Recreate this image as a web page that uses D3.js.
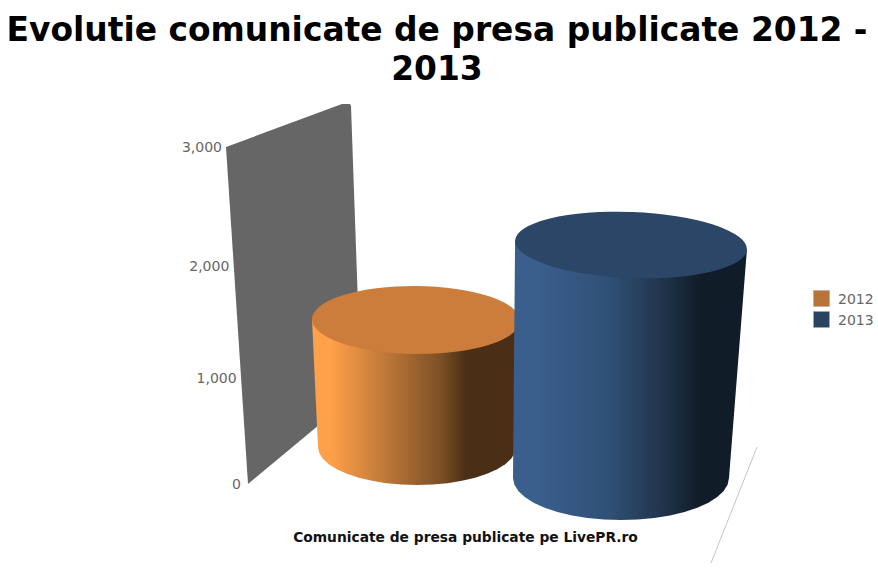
<!DOCTYPE html>
<meta charset="utf-8">
<title>Evolutie comunicate de presa</title>
<style>
body {
  margin: 0;
  background: #fff;
}
svg {
  display: block;
}
text {
  font-family: "DejaVu Sans", Verdana, sans-serif;
}
</style>
<body>
<script src="https://cdnjs.cloudflare.com/ajax/libs/d3/7.8.5/d3.min.js"></script>
<script>
var titleLines = ["Evolutie comunicate de presa publicate 2012 -", "2013"];
var xTitle = "Comunicate de presa publicate pe LivePR.ro";
var years = ["2012", "2013"];
var values = [1150, 1950];
var tickValues = [0, 1000, 2000, 3000];
var topColors = ["#cc7d3c", "#2c4668"];
var legendColors = ["#b97437", "#2a4361"];

var w = 878,
    h = 581;

// the axis spacing is uneven because of the perspective
var wallY = d3.scaleLinear().domain(tickValues).range([484, 378, 266, 147]);
var wallX = d3.scaleLinear().domain([0, 3000]).range([248, 226]);
var backY = d3.scaleLinear().domain([0, 3000]).range([390, 104]);
var backX = d3.scaleLinear().domain([0, 3000]).range([361, 350]);

// ellipse of each cylinder at value 0 and at the value of its top
var cx = d3.scaleOrdinal(years, [
  d3.scaleLinear().domain([0, 1150]).range([417, 416]),
  d3.scaleLinear().domain([0, 1950]).range([621, 631])
]);
var cy = d3.scaleOrdinal(years, [
  d3.scaleLinear().domain([0, 1150]).range([447, 320]),
  d3.scaleLinear().domain([0, 1950]).range([478, 245])
]);
var rx = d3.scaleOrdinal(years, [
  d3.scaleLinear().domain([0, 1150]).range([99, 104]),
  d3.scaleLinear().domain([0, 1950]).range([108, 116])
]);
var ry = d3.scaleOrdinal(years, [
  d3.scaleLinear().domain([0, 1150]).range([38, 34]),
  d3.scaleLinear().domain([0, 1950]).range([42, 33])
]);
// the top faces lean a little towards the right
var tilt = d3.scaleOrdinal(years, [0.5, 2.2]);

var svg = d3.select("body").append("svg")
    .attr("width", w)
    .attr("height", h);

var defs = svg.append("defs");
var stops = [
  [[0, "#ffa04a"], [0.09, "#ffa04a"], [0.33, "#c47c3a"], [0.62, "#7c4f24"], [0.74, "#4a2e15"], [1, "#4a2e15"]],
  [[0, "#3a5f8c"], [0.1, "#3a5f8c"], [0.42, "#2f4f75"], [0.62, "#22374f"], [0.8, "#101c28"], [1, "#101c28"]]
];
years.forEach(function(y, i) {
  defs.append("linearGradient")
      .attr("id", "side" + y)
    .selectAll("stop")
      .data(stops[i])
    .enter().append("stop")
      .attr("offset", function(d) { return d[0]; })
      .attr("stop-color", function(d) { return d[1]; });
});

// title
svg.selectAll(".title")
    .data(titleLines)
  .enter().append("text")
    .attr("class", "title")
    .attr("x", 437)
    .attr("y", function(d, i) { return 41 + i * 39; })
    .attr("text-anchor", "middle")
    .style("font-size", "32.9px")
    .style("font-weight", "bold")
    .style("fill", "#000")
    .text(function(d) { return d; });

// back wall
svg.append("path")
    .attr("fill", "#666")
    .attr("d", d3.line()([
      [wallX(3000), wallY(3000)],
      [backX(3000) - 8, backY(3000)],
      [backX(3000), backY(3000)],
      [backX(3000) + 1, backY(3000) + 2],
      [backX(0), backY(0)],
      [wallX(0), wallY(0)]
    ]) + "Z");

// floor edge
svg.append("line")
    .attr("x1", 757)
    .attr("y1", 447)
    .attr("x2", 711)
    .attr("y2", 563)
    .attr("stroke", "#c4c4c4");

// axis labels
var axis = svg.append("g")
    .call(d3.axisLeft(wallY).tickValues(tickValues).tickSize(0).tickFormat(d3.format(",")));
axis.select(".domain").remove();
axis.selectAll(".tick")
    .attr("transform", function(d) {
      return "translate(" + (wallX(d) - 4 + (d == 0 ? -3 : 0)) + "," + (wallY(d) + 1) + ")";
    });
axis.selectAll("text")
    .attr("x", 0)
    .style("font-family", '"DejaVu Sans", Verdana, sans-serif')
    .style("font-size", "14px")
    .style("fill", "#666");

// cylinders
var bars = svg.selectAll(".bar")
    .data(years)
  .enter().append("g")
    .attr("class", "bar");

bars.append("path")
    .attr("fill", function(d) { return "url(#side" + d + ")"; })
    .attr("d", function(d, i) {
      var v = values[i],
          p = d3.path(),
          a = tilt(d) * Math.PI / 180,
          dx = rx(d)(v) * Math.cos(a),
          dy = rx(d)(v) * Math.sin(a);
      p.moveTo(cx(d)(v) - dx, cy(d)(v) - dy);
      d3.range(0, 1.01, 0.05).forEach(function(t) {
        var b = Math.PI * (1 - t);
        p.lineTo(cx(d)(0) + rx(d)(0) * Math.cos(b), cy(d)(0) + ry(d)(0) * Math.sin(b));
      });
      p.lineTo(cx(d)(v) + dx, cy(d)(v) + dy);
      p.closePath();
      return p.toString();
    });

bars.append("ellipse")
    .attr("cx", function(d, i) { return cx(d)(values[i]); })
    .attr("cy", function(d, i) { return cy(d)(values[i]); })
    .attr("rx", function(d, i) { return rx(d)(values[i]); })
    .attr("ry", function(d, i) { return ry(d)(values[i]); })
    .attr("transform", function(d, i) {
      return "rotate(" + tilt(d) + " " + cx(d)(values[i]) + " " + cy(d)(values[i]) + ")";
    })
    .attr("fill", function(d, i) { return topColors[i]; });

// x axis title
svg.append("text")
    .attr("x", 465.5)
    .attr("y", 542)
    .attr("text-anchor", "middle")
    .style("font-size", "13.8px")
    .style("font-weight", "bold")
    .style("fill", "#111")
    .text(xTitle);

// legend
var legend = svg.selectAll(".legend")
    .data(years)
  .enter().append("g")
    .attr("class", "legend")
    .attr("transform", function(d, i) { return "translate(813," + (290.5 + i * 21) + ")"; });
legend.append("rect")
    .attr("x", 0.5)
    .attr("width", 16)
    .attr("height", 16)
    .attr("fill", function(d, i) { return legendColors[i]; })
    .attr("stroke", "#aaa")
    .attr("stroke-width", 0.5);
legend.append("text")
    .attr("x", 25)
    .attr("y", 13.5)
    .style("font-size", "14px")
    .style("fill", "#666")
    .text(function(d) { return d; });
</script>
